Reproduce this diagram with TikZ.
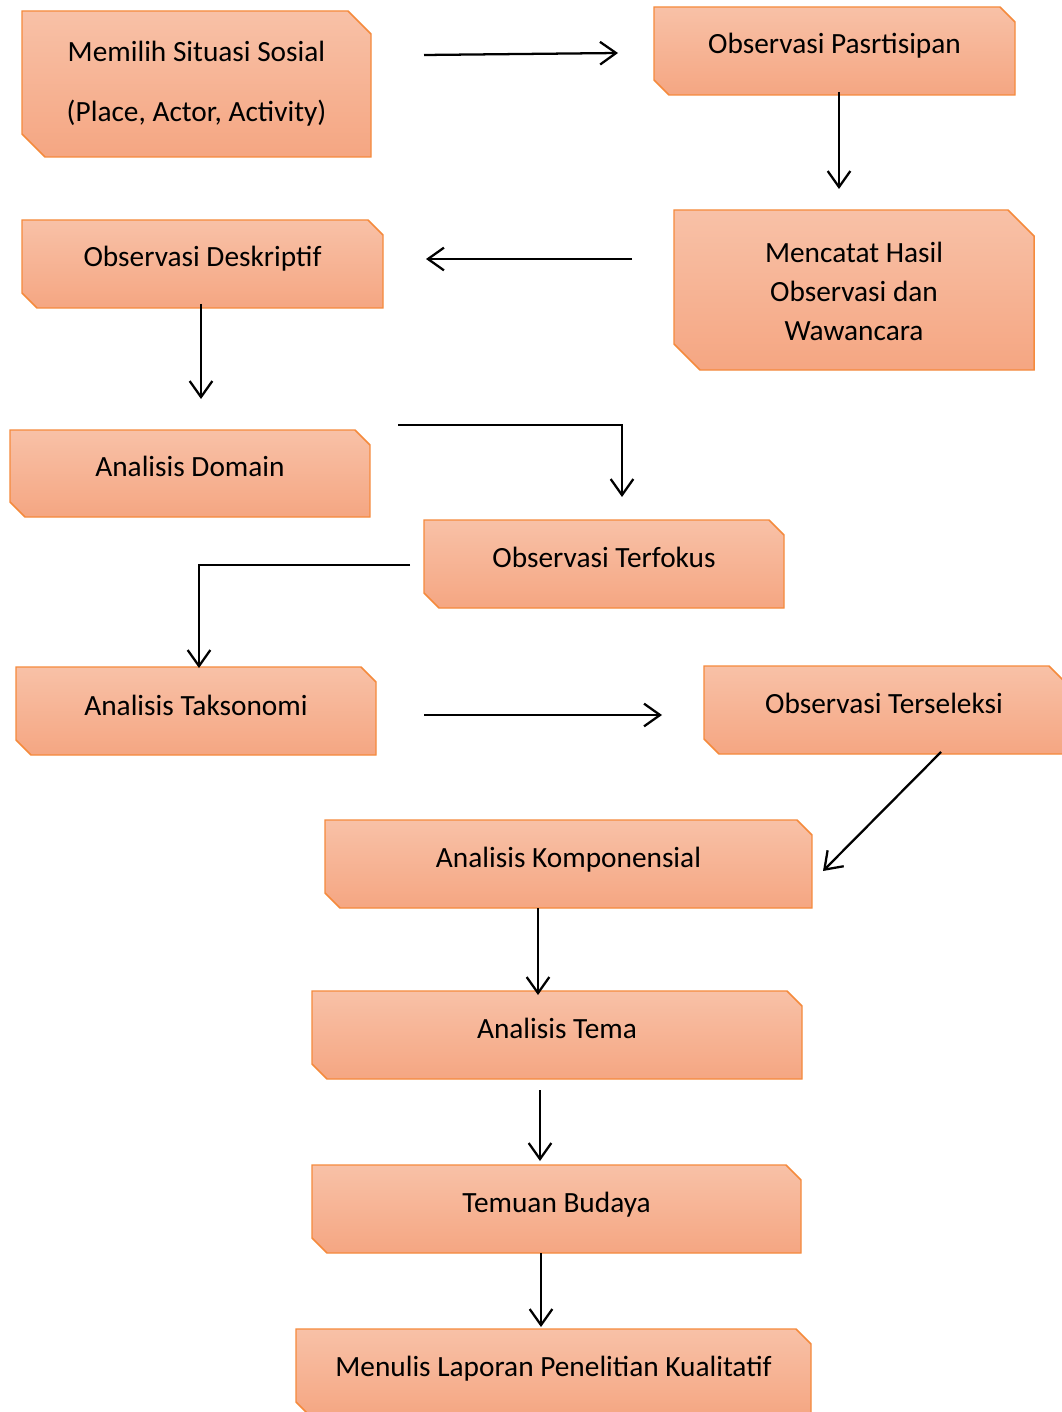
\documentclass[tikz,border=0pt]{standalone}
\usepackage{fontspec}
\setmainfont{Carlito}
\usetikzlibrary{arrows.meta,fit}
\definecolor{boxtop}{HTML}{F8C1A7}
\definecolor{boxbot}{HTML}{F5A682}
\definecolor{boxline}{HTML}{F58A3C}
\newcommand{\snipbox}[6]{%
  \coordinate (#1-nw) at (#2,#3);
  \coordinate (#1-se) at (#4,#5);
  \node[fit=(#1-nw)(#1-se), inner sep=0pt] (#1) {};
  \shade[top color=boxtop, bottom color=boxbot, draw=boxline, line width=1.1pt]
    (#2,#3) -- ({#4-#6},#3) -- (#4,{#3+#6}) -- (#4,#5) -- ({#2+#6},#5) -- (#2,{#5-#6}) -- cycle;
}
\begin{document}
\begin{tikzpicture}[x=0.75pt,y=-0.75pt,
  txt/.style={anchor=base, inner sep=0pt, font=\fontsize{22}{26}\selectfont},
  arr/.style={line width=1.7pt, -{Straight Barb[length=12pt,width=17pt,line width=1.7pt]}}]
\useasboundingbox (0,0) rectangle (1061,1412);
\fill[white] (0,0) rectangle (1061,1412);

\snipbox{b1}{22}{11}{371}{157}{23}
\snipbox{b2}{654}{7}{1015}{95}{15}
\snipbox{b3}{674}{210}{1034}{370}{26}
\snipbox{b4}{22}{220}{383}{308}{15}
\snipbox{b5}{10}{430}{370}{517}{15}
\snipbox{b6}{424}{520}{784}{608}{15}
\snipbox{b7}{16}{667}{376}{755}{15}
\snipbox{b8}{704}{666}{1064}{754}{15}
\snipbox{b9}{325}{820}{812}{908}{15}
\snipbox{b10}{312}{991}{802}{1079}{15}
\snipbox{b11}{312}{1165}{801}{1253}{15}
\snipbox{b12}{296}{1329}{811}{1417}{15}

\node[txt] (t1a) at (196.5,62) {Memilih Situasi Sosial};
\node[txt] (t1b) at (196.5,122) {(Place, Actor, Activity)};
\node[txt] (t2) at (834.5,54) {Observasi Pasrtisipan};
\node[txt] (t3a) at (854,263) {Mencatat Hasil};
\node[txt] (t3b) at (854,301) {Observasi dan};
\node[txt] (t3c) at (854,340) {Wawancara};
\node[txt] (t4) at (202.5,267) {Observasi Deskriptif};
\node[txt] (t5) at (190,476) {Analisis Domain};
\node[txt] (t6) at (604,567) {Observasi Terfokus};
\node[txt] (t7) at (196,715) {Analisis Taksonomi};
\node[txt] (t8) at (884,713) {Observasi Terseleksi};
\node[txt] (t9) at (568.5,867) {Analisis Komponensial};
\node[txt] (t10) at (557,1038) {Analisis Tema};
\node[txt] (t11) at (556.5,1212) {Temuan Budaya};
\node[txt] (t12) at (553.5,1376) {Menulis Laporan Penelitian Kualitatif};

\coordinate (a1s) at (424,55);  \coordinate (a1e) at (618,53);
\coordinate (a2s) at (839,92);  \coordinate (a2e) at (839,189);
\coordinate (a3s) at (632,259); \coordinate (a3e) at (426,259);
\coordinate (a4s) at (201,304); \coordinate (a4e) at (201,399);
\coordinate (a5s) at (398,425); \coordinate (a5m) at (622,425); \coordinate (a5e) at (622,497);
\coordinate (a6s) at (410,565); \coordinate (a6m) at (199,565); \coordinate (a6e) at (199,668);
\coordinate (a7s) at (424,715); \coordinate (a7e) at (662,715);
\coordinate (a8s) at (941,752); \coordinate (a8e) at (823,871);
\coordinate (a9s) at (538,908); \coordinate (a9e) at (538,995);
\coordinate (a10s) at (540,1090); \coordinate (a10e) at (540,1161);
\coordinate (a11s) at (541,1253); \coordinate (a11e) at (541,1327);

\draw[arr] (a1s) -- (a1e);
\draw[arr] (a2s) -- (a2e);
\draw[arr] (a3s) -- (a3e);
\draw[arr] (a4s) -- (a4e);
\draw[arr] (a5s) -- (a5m) -- (a5e);
\draw[arr] (a6s) -- (a6m) -- (a6e);
\draw[arr] (a7s) -- (a7e);
\draw[arr] (a8s) -- (a8e);
\draw[arr] (a9s) -- (a9e);
\draw[arr] (a10s) -- (a10e);
\draw[arr] (a11s) -- (a11e);
\end{tikzpicture}
\end{document}
